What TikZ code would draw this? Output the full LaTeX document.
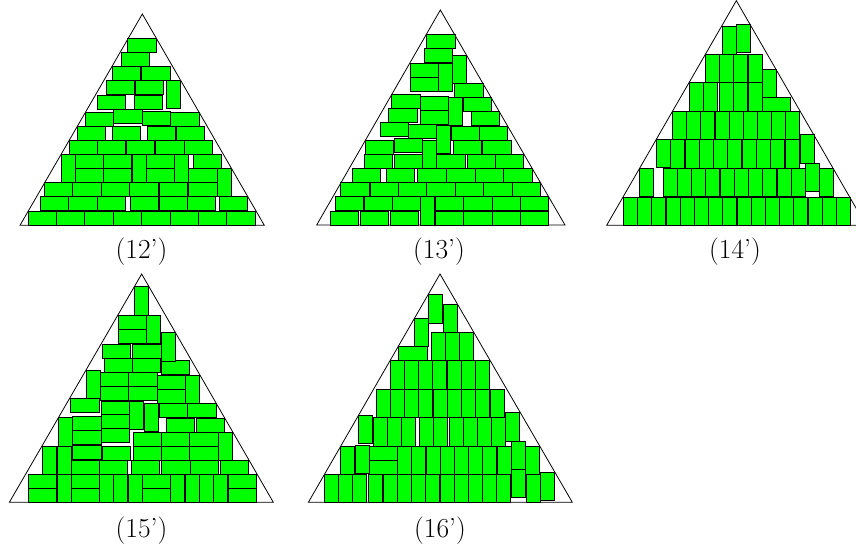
\documentclass[tikz,border=0pt]{standalone}
\usepackage{tikz}
\usetikzlibrary{positioning}
\tikzset{
  brick/.style={draw=black, fill=green, line width=0.7pt},
  tri/.style={draw=black, line width=0.8pt, line join=miter},
  caseno/.style={font=\fontsize{27.5}{32}\selectfont, inner sep=0pt}
}
\newcommand{\hbrick}[2]{\draw[brick] (#1,#2) rectangle ++(85,42);}
\newcommand{\vbrick}[2]{\draw[brick] (#1,#2) rectangle ++(42,85);}

\begin{document}
\begin{tikzpicture}[x=1pt, y=-1pt]
    \useasboundingbox (0,0) rectangle (856,550);
    \begin{scope}[shift={(0,0)}, scale=1/3]
      \draw[tri] (427,42) -- (60,676) -- (793,676) -- cycle;
      \foreach \x/\y in {383/115, 364/157, 337/199, 425/199, 319/241, 405/241, 291/285, 402/285,
                         256/336, 341/328, 427/333, 512/336, 232/378, 337/378, 442/378, 529/378,
                         207/421, 292/421, 379/421, 467/421, 553/421,
                         225/463, 225/505, 310/463, 310/505, 440/463, 440/505, 580/463, 566/505,
                         133/548, 218/548, 304/548, 389/548, 478/548, 566/548,
                         120/590, 206/590, 292/590, 390/590, 477/590, 562/590, 657/590,
                         84/633, 169/633, 254/633, 339/633, 425/633, 510/633, 596/633, 680/633}
        {\hbrick{\x}{\y}}
      \foreach \x/\y in {500/241, 183/463, 396/463, 524/463, 651/505}
        {\vbrick{\x}{\y}}
    \end{scope}
    \begin{scope}[shift={(290,0)}, scale=1/3]
      \draw[tri] (451,30) -- (80,675) -- (825,675) -- cycle;
      \foreach \x/\y in {410/103, 403/145, 360/190, 360/233, 494/250,
                         305/283, 390/289, 520/292, 296/326, 390/331, 543/334,
                         270/368, 355/373, 484/378, 568/378, 226/420, 313/416, 490/420, 578/420,
                         222/463, 313/463, 440/463, 531/463, 616/463,
                         186/506, 289/506, 383/506, 470/506, 556/506, 641/506,
                         152/548, 241/548, 326/548, 410/548, 496/548, 581/548, 666/548,
                         136/590, 222/590, 307/590, 436/590, 521/590, 607/590, 691/590,
                         120/633, 210/633, 300/633, 436/633, 521/633, 607/633, 691/633}
        {\hbrick{\x}{\y}}
      \foreach \x/\y in {488/165, 445/190, 476/292, 440/376, 398/420, 391/590}
        {\vbrick{\x}{\y}}
    \end{scope}
    \begin{scope}[shift={(590,0)}, scale=1/3]
      \draw[tri] (439,2) -- (50,676) -- (828,676) -- cycle;
      \foreach \x/\y in {397/78, 439/73, 346/162, 388/162, 431/162, 474/162, 517/208,
                         297/248, 340/248, 388/248, 431/248, 474/248,
                         247/334, 290/334, 332/334, 375/334, 417/334, 460/334, 502/334, 545/334, 587/334,
                         199/417, 242/419, 285/419, 328/419, 370/419, 413/419, 456/419, 499/419, 542/419,
                         585/419, 630/404,
                         148/505, 219/505, 262/505, 305/505, 347/505, 390/505, 432/505, 475/505,
                         518/505, 561/505, 604/505, 646/490, 688/505}
        {\vbrick{\x}{\y}}
      \foreach \x in {100,142,185,228,270,313,356,398,441,484,526,569,611,654,696,738}
        {\vbrick{\x}{592}}
      \hbrick{517}{292}
    \end{scope}
    \begin{scope}[shift={(0,270)}, scale=1/3]
      \draw[tri] (425,12) -- (28,697) -- (820,697) -- cycle;
      \foreach \x/\y in {355/136, 355/178, 306/222, 398/222, 312/264, 397/264, 484/272,
                         302/306, 386/306, 471/316, 302/348, 386/348, 471/358,
                         212/385, 304/394, 478/400, 563/400, 304/434, 498/444, 588/444,
                         218/440, 218/482, 304/476, 400/486, 485/486, 569/486,
                         218/527, 306/528, 400/528, 485/528, 569/528,
                         214/570, 298/570, 394/570, 485/570, 571/570, 661/570,
                         85/612, 85/655, 214/612, 214/655, 427/612, 427/655, 684/612, 684/655}
        {\hbrick{\x}{\y}}
      \foreach \x/\y in {404/50, 440/136, 483/188, 259/300, 556/316, 389/394, 432/400, 176/443,
                         655/486, 127/528, 172/528, 172/612, 298/612, 341/612, 384/612,
                         512/612, 556/612, 598/612, 641/612}
        {\vbrick{\x}{\y}}
    \end{scope}
    \begin{scope}[shift={(300,270)}, scale=1/3]
      \draw[tri] (420,12) -- (25,697) -- (817,697) -- cycle;
      \foreach \x/\y in {386/74, 430/102, 343/145, 394/187, 437/187, 479/187,
                         270/272, 313/272, 356/272, 398/272, 441/272, 484/272, 527/272,
                         228/357, 271/357, 313/357, 356/357, 399/357, 442/357, 485/357, 527/357, 572/357,
                         176/436, 219/443, 262/443, 304/443, 357/443, 400/443, 447/443, 490/443,
                         532/443, 575/443, 617/428,
                         122/528, 165/526, 292/528, 335/528, 378/528, 420/528, 463/528, 506/528,
                         548/528, 591/528, 633/513, 676/528,
                         72/612, 115/612, 158/612, 206/612, 249/612, 292/612, 334/612, 377/612,
                         420/612, 462/612, 505/612, 548/612, 590/612, 633/598, 678/612, 720/606}
        {\vbrick{\x}{\y}}
      \foreach \x/\y in {296/230, 208/528, 208/570}
        {\hbrick{\x}{\y}}
    \end{scope}
    \node[caseno] (c12) at (141.5,251.5) {(12')};
    \node[caseno] (c13) at (439,251.5) {(13')};
    \node[caseno] (c14) at (735,251.5) {(14')};
    \node[caseno] (c15) at (141.5,531) {(15')};
    \node[caseno] (c16) at (440,531) {(16')};
\end{tikzpicture}
\end{document}
